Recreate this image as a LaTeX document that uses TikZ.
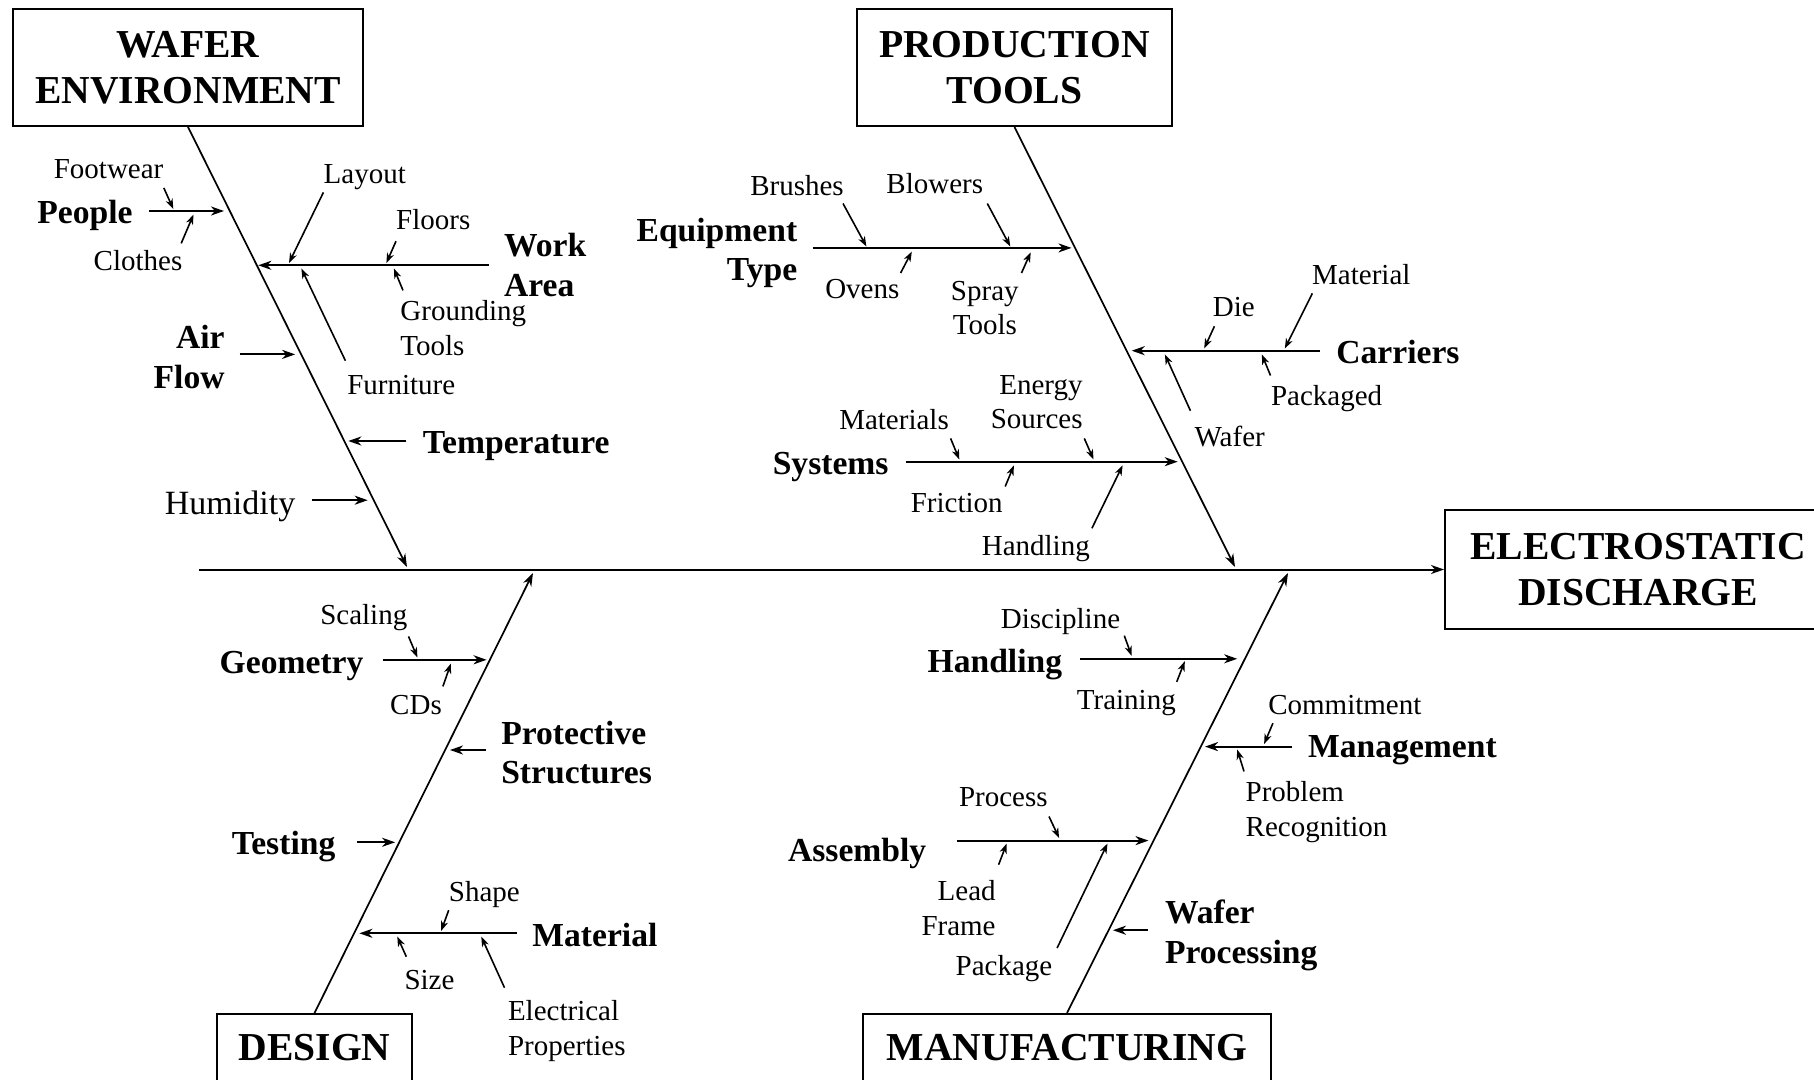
\documentclass[tikz,border=0pt]{standalone}
\usepackage{fontspec}
\setmainfont{Liberation Serif}
\usetikzlibrary{arrows.meta,positioning,calc}

\begin{document}
\begin{tikzpicture}[x=0.5pt, y=-0.5pt,
  headbox/.style={rectangle, draw, line width=1pt, inner sep=0pt, align=center, font=\bfseries\fontsize{19.8}{23}\selectfont},
  cause/.style={inner sep=0pt, text depth=0pt, font=\bfseries\fontsize{16.8}{19.8}\selectfont},
  causes/.style={inner sep=0pt, font=\bfseries\fontsize{16.8}{19.8}\selectfont},
  item/.style={inner sep=0pt, text depth=0pt, font=\fontsize{14.5}{17.2}\selectfont},
  items/.style={inner sep=0pt, font=\fontsize{14.5}{17.2}\selectfont},
  bone/.style={-{Stealth[length=6.5pt,width=4.5pt,inset=2pt]}, line width=0.85pt},
  branch/.style={-{Stealth[length=6.5pt,width=4.5pt,inset=2pt]}, line width=1pt, shorten <=8pt},
  twig/.style={-{Stealth[length=5pt,width=3.6pt,inset=1.5pt]}, line width=0.8pt}]
  \useasboundingbox (0,0) rectangle (1814,1080);

  \node (wafer) at (188,67.5) [headbox, minimum width=175pt, minimum height=58.5pt] {WAFER\\ENVIRONMENT};
  \node (tools) at (1014.5,67.5) [headbox, minimum width=157.5pt, minimum height=58.5pt] {PRODUCTION\\TOOLS};
  \node (esd) at (1638,569.5) [headbox, minimum width=193pt, minimum height=59.5pt] {ELECTROSTATIC\\DISCHARGE};
  \node (design) at (314.5,1048) [headbox, minimum width=97.5pt, minimum height=34pt] {DESIGN};
  \node (manuf) at (1067,1048) [headbox, minimum width=204pt, minimum height=34pt] {MANUFACTURING};

  \coordinate (spine) at (199,569.5);
  \coordinate (w0) at (407,567);
  \coordinate (t0) at (1235,567);
  \coordinate (d0) at (533,573);
  \coordinate (m0) at (1288,573);
  \draw[bone, line width=1pt] (spine) -- (esd);
  \draw[bone] (wafer.south) -- (w0);
  \draw[bone] (tools.south) -- (t0);
  \draw[bone] (design.north) -- (d0);
  \draw[bone] (manuf.north) -- (m0);

  % wafer environment
  \node (people) at (85,212) [cause] {People};
  \node (footwear) at (108.6,169.4) [item] {Footwear};
  \node (clothes) at (138,260.8) [item] {Clothes};
  \node (layout) at (364.8,173.9) [item] {Layout};
  \node (workarea) at (503.7,265) [causes, align=left, anchor=west] {Work\\Area};
  \node (floors) at (433.3,219.5) [item] {Floors};
  \node (grounding) at (400,328) [items, align=left, anchor=west] {Grounding\\Tools};
  \node (furniture) at (401.3,384.8) [item] {Furniture};
  \node (airflow) at (225,357) [causes, align=right, anchor=east] {Air\\Flow};
  \node (temperature) at (516.2,442.1) [cause] {Temperature};
  \node (humidity) at (230.1,503.1) [inner sep=0pt, text depth=0pt, font=\fontsize{17}{20}\selectfont] {Humidity};
  \coordinate (pe) at (224,211);
  \coordinate (wa) at (258.3,265.3);
  \coordinate (af) at (295.2,354.4);
  \coordinate (te) at (348.3,441);
  \coordinate (hu) at (367.7,500.2);
  \draw[branch] (pe -| people.east) -- (pe);
  \draw[branch, shorten <=7.5pt] (wa -| workarea.west) -- (wa);
  \draw[branch, shorten <=7.3pt] (af -| airflow.east) -- (af);
  \draw[branch] (te -| temperature.west) -- (te);
  \draw[branch] (hu -| humidity.east) -- (hu);
  \coordinate (fw1) at (163.8,187.9); \coordinate (fw2) at (173.3,209);
  \coordinate (cl1) at (181.2,243.4); \coordinate (cl2) at (193.5,214.5);
  \coordinate (la1) at (323.4,192.4); \coordinate (la2) at (289,263);
  \coordinate (fl1) at (396,241.2);   \coordinate (fl2) at (386.4,263);
  \coordinate (gr1) at (403,290.4);   \coordinate (gr2) at (393.9,268.5);
  \coordinate (fu1) at (345.4,360.7); \coordinate (fu2) at (301.4,268.5);
  \draw[twig] (fw1) -- (fw2);
  \draw[twig] (cl1) -- (cl2);
  \draw[twig] (la1) -- (la2);
  \draw[twig] (fl1) -- (fl2);
  \draw[twig] (gr1) -- (gr2);
  \draw[twig] (fu1) -- (fu2);

  % production tools
  \node (equipment) at (797.6,253) [causes, align=right, anchor=east] {Equipment\\Type};
  \node (brushes) at (797,185) [item] {Brushes};
  \node (blowers) at (934.8,183.1) [item] {Blowers};
  \node (ovens) at (862.3,288.6) [item] {Ovens};
  \node (spray) at (984.8,308) [items, align=center] {Spray\\Tools};
  \node (carriers) at (1336,351.7) [cause, anchor=west] {Carriers};
  \node (die) at (1233.8,307) [item] {Die};
  \node (material) at (1361.3,274.5) [item] {Material};
  \node (packaged) at (1326.6,395.1) [item] {Packaged};
  \node (waferC) at (1229.7,436.6) [item] {Wafer};
  \node (systems) at (888.9,463.6) [cause, anchor=east] {Systems};
  \node (materials) at (894,419.9) [item] {Materials};
  \node (energy) at (1083,402) [items, align=right, anchor=east] {Energy\\Sources};
  \node (friction) at (956.7,502.4) [item] {Friction};
  \node (handlingP) at (1035.8,545.7) [item] {Handling};
  \coordinate (et) at (1071.5,247.9);
  \coordinate (ca) at (1131.7,350.7);
  \coordinate (sy) at (1177.7,461.7);
  \draw[branch, shorten <=7.5pt] (et -| equipment.east) -- (et);
  \draw[branch] (ca -| carriers.west) -- (ca);
  \draw[branch, shorten <=8.4pt] (sy -| systems.east) -- (sy);
  \coordinate (br1) at (843,203.5);    \coordinate (br2) at (866.4,246.5);
  \coordinate (bl1) at (987.3,203.5);  \coordinate (bl2) at (1010.3,246.5);
  \coordinate (ov1) at (900.6,273);    \coordinate (ov2) at (911.8,251.6);
  \coordinate (sp1) at (1021.5,273);   \coordinate (sp2) at (1030.7,252.3);
  \coordinate (di1) at (1214.4,326.3); \coordinate (di2) at (1204.2,348.5);
  \coordinate (mt1) at (1312.3,293.4); \coordinate (mt2) at (1284.8,348.5);
  \coordinate (pk1) at (1270.5,375.5); \coordinate (pk2) at (1261.8,354.4);
  \coordinate (wf1) at (1190.4,410.7); \coordinate (wf2) at (1164.9,354.4);
  \coordinate (ms1) at (950.6,438.4);  \coordinate (ms2) at (959.3,459.5);
  \coordinate (en1) at (1084.3,438.4); \coordinate (en2) at (1093.5,459.5);
  \coordinate (fr1) at (1005.2,486.5); \coordinate (fr2) at (1013.9,465.4);
  \coordinate (hp1) at (1091.9,528.3); \coordinate (hp2) at (1122.6,465.4);
  \draw[twig] (br1) -- (br2);
  \draw[twig] (bl1) -- (bl2);
  \draw[twig] (ov1) -- (ov2);
  \draw[twig] (sp1) -- (sp2);
  \draw[twig] (di1) -- (di2);
  \draw[twig] (mt1) -- (mt2);
  \draw[twig] (pk1) -- (pk2);
  \draw[twig] (wf1) -- (wf2);
  \draw[twig] (ms1) -- (ms2);
  \draw[twig] (en1) -- (en2);
  \draw[twig] (fr1) -- (fr2);
  \draw[twig] (hp1) -- (hp2);

  % design
  \node (geometry) at (363.8,662) [cause, anchor=east] {Geometry};
  \node (scaling) at (363.8,614) [item] {Scaling};
  \node (cds) at (416,704.6) [item] {CDs};
  \node (protective) at (500.9,752.6) [causes, align=left, anchor=west] {Protective\\Structures};
  \node (testing) at (335.7,843) [cause, anchor=east] {Testing};
  \node (materialD) at (532,935) [cause, anchor=west] {Material};
  \node (shape) at (484.4,891.2) [item] {Shape};
  \node (size) at (429.5,980) [item] {Size};
  \node (electrical) at (507.6,1031) [items, align=left, anchor=west] {Electrical\\Properties};
  \coordinate (ge) at (486.6,659.8);
  \coordinate (pr) at (450,750);
  \coordinate (ts) at (395.1,842.3);
  \coordinate (ma) at (359.4,933.3);
  \draw[branch, shorten <=9.4pt] (ge -| geometry.east) -- (ge);
  \draw[branch, shorten <=7.6pt] (pr -| protective.west) -- (pr);
  \draw[branch, shorten <=10.7pt] (ts -| testing.east) -- (ts);
  \draw[branch, shorten <=7.5pt] (ma -| materialD.west) -- (ma);
  \coordinate (sc1) at (408.5,636.4);  \coordinate (sc2) at (417.4,657.5);
  \coordinate (cd1) at (442.9,686.4);  \coordinate (cd2) at (450.9,663.5);
  \coordinate (sh1) at (448.7,910.2);  \coordinate (sh2) at (441.1,931);
  \coordinate (si1) at (406.3,956.7);  \coordinate (si2) at (397.3,936.5);
  \coordinate (el1) at (504.5,987.7);  \coordinate (el2) at (481.3,936.7);
  \draw[twig] (sc1) -- (sc2);
  \draw[twig] (cd1) -- (cd2);
  \draw[twig] (sh1) -- (sh2);
  \draw[twig] (si1) -- (si2);
  \draw[twig] (el1) -- (el2);

  % manufacturing
  \node (handlingM) at (1062.5,660.5) [cause, anchor=east] {Handling};
  \node (discipline) at (1060.5,618.5) [item] {Discipline};
  \node (training) at (1126.3,700.1) [item] {Training};
  \node (management) at (1307.8,746.6) [cause, anchor=west] {Management};
  \node (commitment) at (1344.8,704.6) [item] {Commitment};
  \node (problem) at (1245.3,812) [items, align=left, anchor=west] {Problem\\Recognition};
  \node (assembly) at (926.7,850) [cause, anchor=east] {Assembly};
  \node (process) at (1003.3,796.5) [item] {Process};
  \node (lead) at (996,908) [items, align=right, anchor=east] {Lead\\Frame};
  \node (package) at (1004,965.3) [item] {Package};
  \node (waferproc) at (1164.6,935.5) [causes, align=left, anchor=west] {Wafer\\Processing};
  \coordinate (hm) at (1237.2,658.8);
  \coordinate (mg) at (1205,746.6);
  \coordinate (as) at (1148.5,840.6);
  \coordinate (wp) at (1112.9,930.2);
  \draw[branch, shorten <=8.7pt] (hm -| handlingM.east) -- (hm);
  \draw[branch, shorten <=7.7pt] (mg -| management.west) -- (mg);
  \draw[branch, shorten <=15.1pt] (as -| assembly.east) -- (as);
  \draw[branch, shorten <=8.4pt] (wp -| waferproc.west) -- (wp);
  \coordinate (dc1) at (1124.3,635.7); \coordinate (dc2) at (1131.7,656);
  \coordinate (tr1) at (1176.7,681.9); \coordinate (tr2) at (1184.8,661.2);
  \coordinate (cm1) at (1272.9,723.2); \coordinate (cm2) at (1264.1,744);
  \coordinate (pb1) at (1244,771.4);   \coordinate (pb2) at (1237.2,749.5);
  \coordinate (pc1) at (1049,816.5);   \coordinate (pc2) at (1059.1,838);
  \coordinate (ld1) at (998.6,864.7);  \coordinate (ld2) at (1006.7,843.5);
  \coordinate (pa1) at (1057.1,948);   \coordinate (pa2) at (1107.5,843.5);
  \draw[twig] (dc1) -- (dc2);
  \draw[twig] (tr1) -- (tr2);
  \draw[twig] (cm1) -- (cm2);
  \draw[twig] (pb1) -- (pb2);
  \draw[twig] (pc1) -- (pc2);
  \draw[twig] (ld1) -- (ld2);
  \draw[twig] (pa1) -- (pa2);
\end{tikzpicture}
\end{document}
